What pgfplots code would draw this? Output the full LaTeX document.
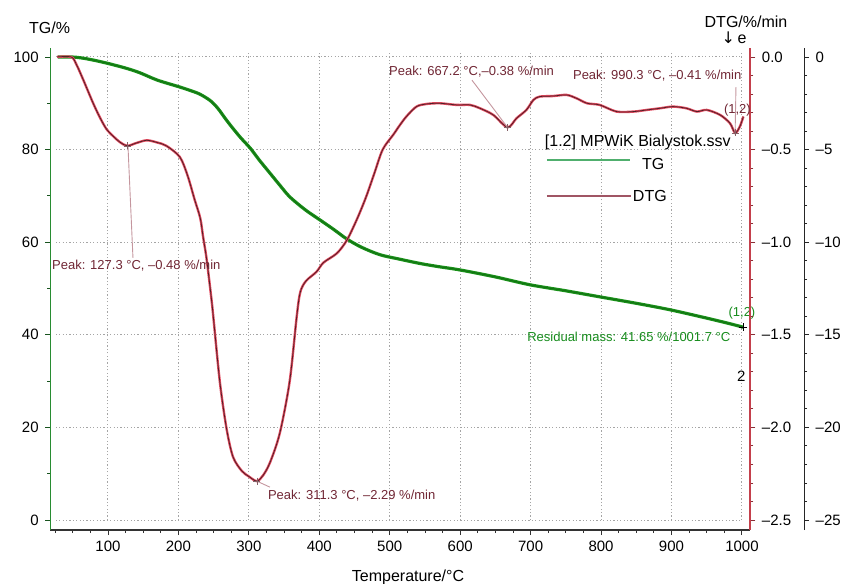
\documentclass[border=0pt]{standalone}
\usepackage{fontspec}
\setmainfont{Liberation Sans}
\newfontfamily\symfont{DejaVu Sans}
\usepackage{pgfplots}
\usepackage{pgfplotstable}
\pgfplotsset{compat=1.18}

\definecolor{tgGreen}{RGB}{25,145,25}
\definecolor{tgDark}{RGB}{15,85,15}
\definecolor{dtgRed}{RGB}{225,75,95}
\definecolor{dtgDark}{RGB}{80,30,38}
\definecolor{peakText}{RGB}{112,38,52}
\definecolor{leader}{RGB}{196,150,158}
\definecolor{resGreen}{RGB}{22,140,28}
\definecolor{gridGray}{RGB}{165,165,165}
\definecolor{axisGreen}{RGB}{40,140,50}
\definecolor{axisRed}{RGB}{196,64,76}
\definecolor{legTG}{RGB}{80,175,110}
\definecolor{legDTG}{RGB}{160,85,100}

\newcommand{\tickfont}{\fontsize{15bp}{18bp}\selectfont}
\newcommand{\notefont}{\fontsize{13bp}{15bp}\selectfont}
\newcommand{\labelfont}{\fontsize{16bp}{19bp}\selectfont}

% mass curve, %
\pgfplotstableread{
T TG
29 100.0
48 100.0
62 99.8
80 99.3
100 98.6
125 97.6
145 96.6
170 95.0
200 93.6
216 92.8
230 92.0
245 90.6
256 88.9
270 86.0
287 82.8
302 80.3
315 77.7
330 74.9
344 72.3
358 69.8
380 67.0
401 64.8
420 62.8
439 60.7
460 58.9
486 57.3
515 56.3
543 55.4
570 54.7
600 54.0
650 52.5
699 50.8
750 49.5
798 48.2
850 46.8
898 45.4
950 43.6
980 42.5
1001.7 41.65
}\tgdata

% derivative curve, %/min
\pgfplotstableread{
T DTG
28 0.0
48 0.0
55.5 -0.043
65 -0.124
79 -0.25
89 -0.33
98 -0.39
108 -0.43
117 -0.46
127.3 -0.48
140 -0.465
155 -0.45
170 -0.462
183 -0.48
202 -0.54
213 -0.64
223 -0.77
231 -0.87
235 -0.97
240 -1.09
247 -1.31
250 -1.42
259 -1.76
268.5 -2.01
277.6 -2.16
290 -2.235
300 -2.265
311.3 -2.29
320 -2.26
330 -2.19
344 -2.03
358 -1.75
368 -1.40
373 -1.27
381 -1.21
396 -1.16
406 -1.11
425 -1.06
439 -0.99
453 -0.88
466 -0.76
478 -0.63
490 -0.50
505 -0.42
514 -0.37
524 -0.32
538 -0.268
552 -0.254
571 -0.25
595 -0.259
614 -0.259
628 -0.277
647 -0.313
667.2 -0.38
680 -0.331
694 -0.286
704 -0.232
713 -0.214
732 -0.211
751 -0.205
765 -0.223
780 -0.25
798 -0.259
822 -0.295
846 -0.295
865 -0.286
884 -0.277
902 -0.268
921 -0.277
936 -0.295
950 -0.286
969 -0.313
983 -0.358
990.3 -0.41
997 -0.376
1002 -0.322
}\dtgdata

\pgfplotsset{
  thermo/.style={
    scale only axis, width=700.2bp, height=482.5bp,
    anchor=south west,
    xmin=18, xmax=1012,
    clip=false,
    /pgf/number format/assume math mode=true,
    /pgf/number format/1000 sep={},
    major tick length=5bp, minor tick length=3bp,
    tick align=outside,
    ticklabel style={font=\tickfont},
    axis line style={-},
  },
  rightaxis/.style={
    thermo,
    axis x line=none,
    axis y line*=right,
    yticklabel style={xshift=3bp},
  },
}

\begin{document}
\begin{tikzpicture}
\useasboundingbox (0,0) rectangle (841bp,584bp);

% outer scale, %/min x 10
\begin{axis}[rightaxis,
  at={(104bp,53.8bp)},
  ymin=-25.55, ymax=0.5,
  ytick={0,-5,-10,-15,-20,-25},
  yticklabels={0,–5,–10,–15,–20,–25},
  minor ytick={-1,-2,...,-25},
  y axis line style={black!85, line width=1.3bp},
  y tick style={black!85, line width=0.9bp},
]
\end{axis}

% mass axis with grid and TG curve
\begin{axis}[thermo,
  at={(50.2bp,53.8bp)},
  ymin=-2.2, ymax=102,
  axis x line*=bottom, axis y line*=left,
  xtick={100,200,...,1000},
  minor xtick={25,50,...,1000},
  ytick={0,20,...,100},
  minor ytick={10,30,50,70,90},
  x axis line style={black!80, line width=1.6bp},
  x tick style={black!80, line width=0.9bp},
  y axis line style={axisGreen, line width=1.3bp},
  y tick style={axisGreen!60!black, line width=0.9bp},
  yticklabel style={xshift=-3bp},
  xticklabel style={yshift=-2bp},
]
% dotted grid
\pgfplotsinvokeforeach{100,200,...,1000}{
  \draw[gridGray, line width=1bp, dash pattern=on 1.2bp off 2.2bp] (axis cs:#1,0) -- (axis cs:#1,101);
}
\pgfplotsinvokeforeach{0,20,...,100}{
  \draw[gridGray, line width=1bp, dash pattern=on 1.2bp off 2.2bp] (axis cs:26,#1) -- (axis cs:1000,#1);
}
\addplot[tgGreen, line width=3.2bp, smooth, tension=0.5] table[x=T, y=TG] {\tgdata};
\addplot[tgDark, line width=1bp, opacity=0.5, smooth, tension=0.5] table[x=T, y=TG] {\tgdata};
\addplot[only marks, mark=+, mark size=4bp, black, line width=0.8bp] coordinates {(1001.7,41.65)};

% legend
\node[anchor=west, inner sep=0, font=\labelfont] at (axis cs:720,81.6) {[1.2] MPWiK Bialystok.ssv};
\draw[legTG, line width=1.6bp] (axis cs:723,77.8) -- (axis cs:841,77.8);
\node[anchor=west, inner sep=0, font=\labelfont] at (axis cs:858,76.9) {TG};
\draw[legDTG, line width=2bp] (axis cs:723,70) -- (axis cs:843,70);
\node[anchor=west, inner sep=0, font=\labelfont] at (axis cs:845,70) {DTG};

% residual mass
\node[inner sep=0, font=\notefont, text=resGreen] at (axis cs:1000,44.7) {(1,2)};
\node[anchor=west, inner sep=0, font=\notefont, text=resGreen] at (axis cs:695,39.5) {Residual mass: 41.65 \%/1001.7 °C};
\node[inner sep=0, font=\tickfont] at (axis cs:999,31.1) {2};
\end{axis}

% derivative axis with DTG curve
\begin{axis}[rightaxis,
  at={(50.2bp,53.8bp)},
  ymin=-2.555, ymax=0.05,
  ytick={0,-0.5,-1,-1.5,-2,-2.5},
  yticklabels={0.0,–0.5,–1.0,–1.5,–2.0,–2.5},
  minor ytick={-0.1,-0.2,...,-2.5},
  y axis line style={axisRed, line width=2bp},
  y tick style={axisRed!70!black, line width=0.9bp},
]
\addplot[dtgRed, line width=2.4bp, smooth, tension=0.5] table[x=T, y=DTG] {\dtgdata};
\addplot[dtgDark, line width=0.75bp, smooth, tension=0.5] table[x=T, y=DTG] {\dtgdata};
\addplot[only marks, mark=+, mark size=3.5bp, dtgDark!70, line width=0.6bp]
  coordinates {(127.3,-0.48) (311.3,-2.29) (667.2,-0.38) (990.3,-0.41)};

% peak annotations
\draw[leader, line width=0.9bp] (axis cs:128.4,-0.48) -- (axis cs:135.5,-1.085);
\node[anchor=west, inner sep=0, font=\notefont, text=peakText] at (axis cs:20.5,-1.1275) {Peak: 127.3 °C, –0.48 \%/min};
\draw[leader, line width=0.9bp] (axis cs:311.3,-2.29) -- (axis cs:329.9,-2.3225);
\node[anchor=west, inner sep=0, font=\notefont, text=peakText] at (axis cs:327,-2.37) {Peak: 311.3 °C, –2.29 \%/min};
\draw[leader, line width=0.9bp] (axis cs:616.7,-0.125) -- (axis cs:667.2,-0.38);
\node[anchor=west, inner sep=0, font=\notefont, text=peakText] at (axis cs:499,-0.08) {Peak: 667.2 °C,–0.38 \%/min};
\draw[leader, line width=0.9bp] (axis cs:991.5,-0.1625) -- (axis cs:990.3,-0.41);
\node[anchor=west, inner sep=0, font=\notefont, text=peakText] at (axis cs:760,-0.1025) {Peak: 990.3 °C, –0.41 \%/min};
\node[inner sep=0, font=\notefont, text=peakText] at (axis cs:993.6,-0.285) {(1,2)};
\end{axis}

% axis titles
\node[anchor=west, inner sep=0, font=\labelfont] at (29bp,556bp) {TG/\%};
\node[inner sep=0, font=\labelfont] at (746bp,562bp) {DTG/\%/min};
\node[inner sep=0, font=\labelfont] at (734bp,546bp) {{\symfont ↓}\,e};
\node[inner sep=0, font=\labelfont] at (408bp,7bp) {Temperature/°C};
\end{tikzpicture}
\end{document}
